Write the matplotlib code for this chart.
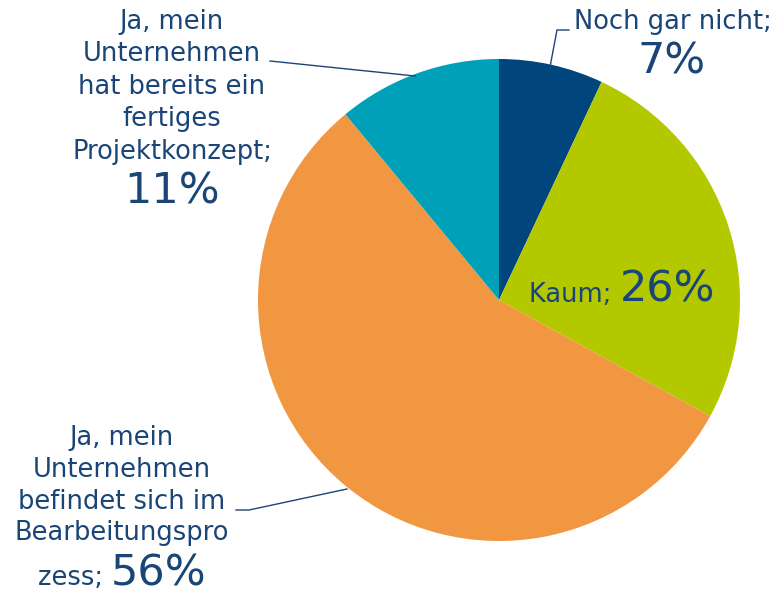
import matplotlib
matplotlib.use("Agg")
from matplotlib import pyplot as plt
from matplotlib.offsetbox import TextArea, HPacker, AnnotationBbox

labels = ["Noch gar nicht", "Kaum",
          "Ja, mein Unternehmen befindet sich im Bearbeitungsprozess",
          "Ja, mein Unternehmen hat bereits ein fertiges Projektkonzept"]
values = [7, 26, 56, 11]
colors = ["#00457C", "#B4C800", "#F29741", "#00A0B9"]

txt = "#1A4577"
W, H = 780, 597
small = 18.5
big = 31

fig = plt.figure(figsize=(W / 100, H / 100), dpi=100)
ax = fig.add_axes([0, 0, 1, 1])

ax.pie(values, colors=colors, startangle=90, counterclock=False,
       center=(499, H - 300), radius=241, frame=True,
       wedgeprops=dict(linewidth=0))
ax.set_xlim(0, W)
ax.set_ylim(0, H)
ax.set_aspect("equal")
ax.axis("off")


def Y(y):
    return H - y


def line(x, y, s, size=small):
    ax.text(x, Y(y), s, ha="center", va="center", fontsize=size, color=txt)


def mixed(x, y, s1, s2, anchor=(0.5, 0.5)):
    a = TextArea(s1, textprops=dict(fontsize=small, color=txt))
    b = TextArea(s2, textprops=dict(fontsize=big, color=txt))
    box = HPacker(children=[a, b], align="baseline", pad=0, sep=0)
    ab = AnnotationBbox(box, (x, Y(y)), box_alignment=anchor, frameon=False, pad=0)
    ax.add_artist(ab)


def leader(xs, ys):
    ax.plot(xs, [Y(v) for v in ys], color=txt, lw=1)


# Noch gar nicht
line(673, 22, labels[0] + ";")
line(672, 62, f"{values[0]}%", big)
leader([569, 557, 550], [30, 30, 67])

# Kaum
mixed(622, 290, labels[1] + "; ", f"{values[1]}%")

# fertiges Projektkonzept
for s, y in zip(["Ja, mein", "Unternehmen", "hat bereits ein", "fertiges",
                 "Projektkonzept;"], [22, 54, 87, 119, 152]):
    line(172, y, s)
line(172, 192, f"{values[3]}%", big)
leader([270, 415], [61, 76])

# Bearbeitungsprozess
for s, y in zip(["Ja, mein", "Unternehmen", "befindet sich im", "Bearbeitungspro"],
                [438, 470, 502, 533]):
    line(122, y, s)
mixed(122, 573, "zess; ", f"{values[2]}%")
leader([236, 249, 347], [510, 510, 489])

fig.savefig("out.png", dpi=100)
